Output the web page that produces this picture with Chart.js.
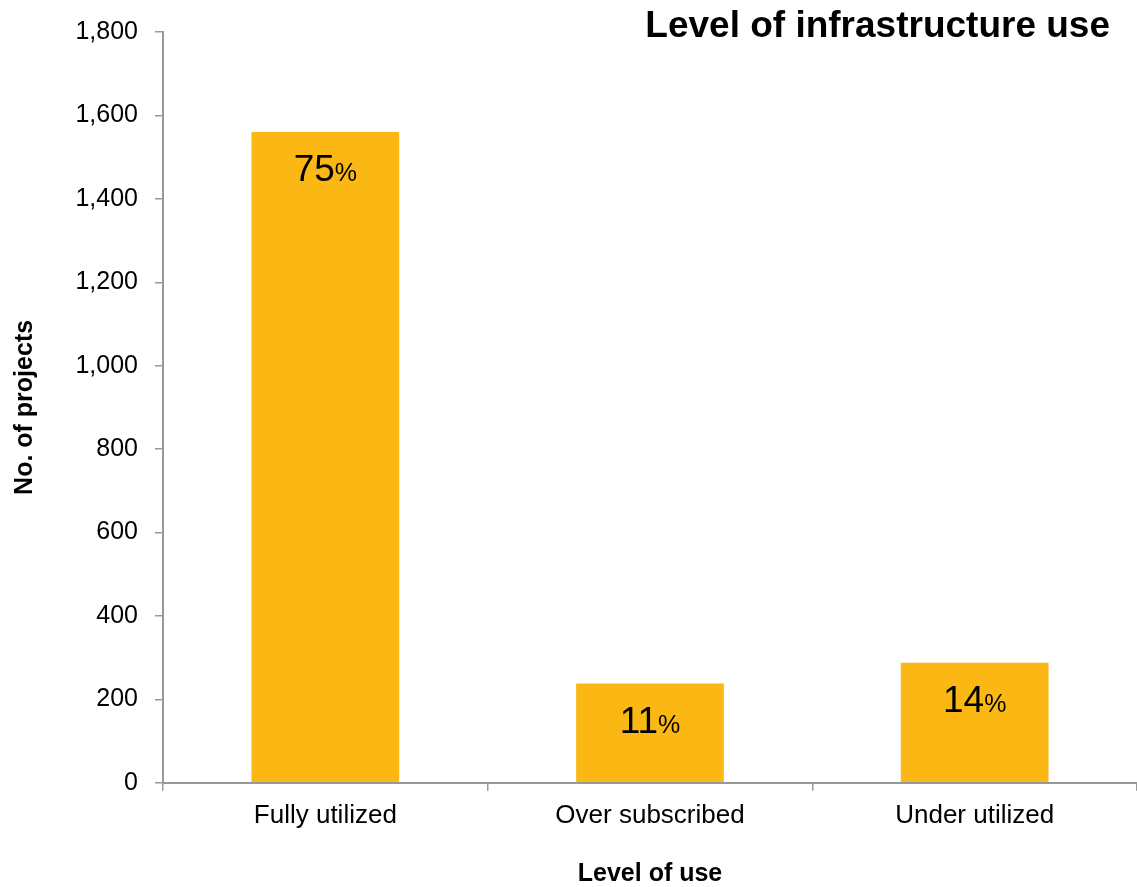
<!DOCTYPE html>
<html>
<head>
<meta charset="utf-8">
<script src="https://cdn.jsdelivr.net/npm/chart.js@4"></script>
<style>
html,body{margin:0;padding:0;background:#fff;}
#wrap{width:1137px;height:887px;position:relative;}
</style>
</head>
<body>
<div id="wrap"><canvas id="c" width="1137" height="887"></canvas></div>
<script>
const categories = ["Fully utilized", "Over subscribed", "Under utilized"];
const projectCounts = [1560, 238, 288];
const percentLabels = ["75", "11", "14"];
const yTicks = [0, 200, 400, 600, 800, 1000, 1200, 1400, 1600, 1800];

const FONT = "'Liberation Sans', Arial, sans-serif";

const labelPlugin = {
  id: 'pctLabels',
  afterDatasetsDraw(chart) {
    const ctx = chart.ctx;
    const meta = chart.getDatasetMeta(0);
    ctx.save();
    ctx.fillStyle = '#000';
    ctx.textBaseline = 'alphabetic';
    meta.data.forEach((bar, i) => {
      const num = percentLabels[i];
      ctx.font = "37px " + FONT;
      const w1 = ctx.measureText(num).width;
      ctx.font = "25px " + FONT;
      const w2 = ctx.measureText('%').width;
      const total = w1 + w2;
      const x0 = bar.x - total / 2;
      const y = bar.y + 49;
      ctx.textAlign = 'left';
      ctx.font = "37px " + FONT;
      ctx.fillText(num, x0, y);
      ctx.font = "25px " + FONT;
      ctx.fillText('%', x0 + w1, y);
    });
    ctx.restore();
  }
};

const titlePlugin = {
  id: 'cornerTitle',
  afterDraw(chart) {
    const ctx = chart.ctx;
    ctx.save();
    ctx.font = "bold 37px " + FONT;
    ctx.fillStyle = '#000';
    ctx.textAlign = 'right';
    ctx.textBaseline = 'middle';
    ctx.fillText('Level of infrastructure use', 1110, 27);
    ctx.restore();
  }
};

new Chart(document.getElementById('c'), {
  type: 'bar',
  data: {
    labels: categories,
    datasets: [{
      data: projectCounts,
      backgroundColor: '#FBB814',
      borderWidth: 0,
      categoryPercentage: 0.455,
      barPercentage: 1.0
    }]
  },
  options: {
    responsive: false,
    animation: false,
    devicePixelRatio: 1,
    layout: { padding: { top: 31, right: 0, left: 10, bottom: 0 } },
    plugins: { legend: { display: false }, tooltip: { enabled: false } },
    scales: {
      x: {
        grid: { display: true, drawOnChartArea: false, offset: true, tickLength: 8, color: '#999', lineWidth: 1.5 },
        border: { display: true, color: '#999', width: 2 },
        ticks: { color: '#000', font: { family: FONT, size: 26 }, padding: 9 },
        title: { display: true, text: 'Level of use', color: '#000', font: { family: FONT, size: 25, weight: 'bold', lineHeight: 1 }, padding: { top: 22, bottom: 0 } }
      },
      y: {
        min: 0, max: 1800,
        afterBuildTicks(scale) { scale.ticks = yTicks.map(v => ({ value: v })); },
        afterFit(scale) { scale.width = 153; },
        grid: { display: true, drawOnChartArea: false, tickLength: 8, color: '#999', lineWidth: 1.5 },
        border: { display: true, color: '#999', width: 2 },
        ticks: { color: '#000', font: { family: FONT, size: 25 }, padding: 17,
          callback: v => v.toLocaleString('en-US') },
        title: { display: true, text: 'No. of projects', color: '#000', font: { family: FONT, size: 25, weight: 'bold' }, padding: { top: 0, bottom: 0 } }
      }
    }
  },
  plugins: [labelPlugin, titlePlugin]
});
</script>
</body>
</html>
